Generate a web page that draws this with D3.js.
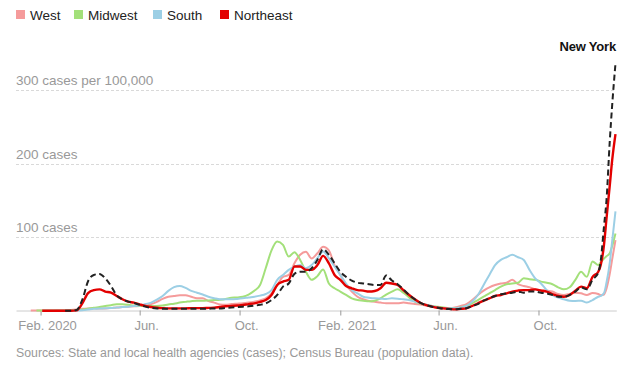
<!DOCTYPE html>
<html>
<head>
<meta charset="utf-8">
<script src="https://cdn.jsdelivr.net/npm/d3@7"></script>
<style>
  html, body { margin: 0; padding: 0; background: #fff; }
  svg { display: block; font-family: "Liberation Sans", Arial, Helvetica, sans-serif; }
</style>
</head>
<body>
<svg id="chart" width="643" height="366"></svg>
<script>
// ---- DATA ----
const weekStart = "2020-01-20";          // first weekly observation
const weekCount = 100;                   // weekly points through 2021-12-13
const tailDates = ["2021-12-16","2021-12-20","2021-12-23","2021-12-27","2021-12-30","2022-01-03"];

const seriesNames = ["West", "Midwest", "South", "Northeast", "New York"];

const west = [0.3,0.3,0.3,0.3,0.4,0.5,0.6,0.8,1.5,2.5,
  3,3.2,3,3,3.5,4.5,5,5.5,6,6.4,
  7,9,12,16,19,20,21,21,19,17,
  17,13,11,8.5,8,9,9.5,10,11,12.3,
  14,16.8,23.6,35,46,48.6,64.5,76,80,71,
  78,87,82,62,48.6,35,26,19,15.5,13.2,
  12.3,11,10,10,10,11,10,9,8.5,7,
  5.5,4,3.2,3.5,4.5,6.5,9,14.5,21.4,27.3,
  31.8,35,37,38,42,36,33.6,31.8,29,28,
  27.3,26,22.7,21.4,22.7,24.5,23.6,21.4,24,22.7,
  21,22,30,50,70,96];

const midwest = [null,0.3,0.3,0.3,0.3,0.3,0.4,0.5,1,1.5,
  2.5,4,5,6.4,7.5,8.6,8.6,8,7,6.4,
  6.4,6.4,6.4,7,8.5,9.5,11,12,13,13.6,
  13.6,14,14.5,15,16,17.7,18,19,22,27,
  35,58,82,94,89.5,73.6,79.5,69,53,42,
  47,56,37,30.5,26,21.4,16.8,14.5,13.6,12.7,
  13.6,16.8,22,26,29,24.5,18,12.3,9.5,8,
  6.4,5.5,4.5,3.5,3.2,4.5,6.4,10,14.5,19,
  23.6,28,32.7,36,37,38,44,42.7,42,39.5,
  38,36,31.8,29,31.8,42,53,46,67,62,
  66,71,74,78,88,105];

const south = [null,null,0,0,0,0,0,0,0.3,0.5,
  1.5,2.5,3,3.2,3.8,4.5,5,5.5,6.4,7,
  9,11,15,20,27,32,33.6,31,27,24.5,
  22,19,17,15.5,15.5,15.5,16,16.8,18,19,
  20.5,22.7,28,42,48.6,55.5,60,62,57.7,62,
  71.4,80.5,71.4,60,48.6,37,28,23.6,19,17.7,
  16.8,16.4,16,16.8,16.4,15.5,14.5,12.3,10,8,
  6.4,4.5,3.2,3.2,3.2,4.5,6.4,12.3,21.4,35,
  48.6,62,69,72.7,76,72.7,69,55.5,44,37,
  28,21.4,17.7,15.5,13.6,13.2,13.6,11,14.5,19,
  20,24,38,65,95,135];

const northeast = [null,null,0,0,0,0,0,0,0.5,10,
  24,28,29,26,24.5,20,15.5,12.3,11,8.6,
  6.4,5,4,3.5,3.2,3.2,3.2,3.2,3.5,3.5,
  3.5,3.8,4,5,6,6.4,7,7.7,9,10,
  12,14.5,21.4,35,39.5,42,60,60,55.5,55.5,
  62,74.5,64.5,48.6,42,33.6,30.5,28,27.3,26,
  26.8,30.5,38,37,35,28,21.4,15.5,10.5,7.5,
  5.5,4,3.2,2.5,1.8,2.5,3.2,6.4,10,13.6,
  16.8,20,21.4,23.6,26,27.3,28,28,29,27.3,
  26,22.7,20,19,21.4,27.3,32.7,30.5,46,53,
  62,90,125,170,205,240];

const newYork = [null,null,null,null,null,null,0,0,1,15,
  40,48.6,50,44,33.6,21,15.5,12.3,10.5,8,
  5.5,4,3,2.7,2.5,2.5,2.5,2.5,2.5,2.5,
  2.7,2.7,3,3,3.8,4.5,5,5.5,6,6.8,
  8,10,14.5,21.4,32.7,37,50,53,53,57.7,
  69,83.6,76,64.5,53,46,41,38,37,36,
  35,35,48,41,36,29,21.4,15.5,10.5,7.5,
  5.5,4,2.7,2.2,1.8,2.5,3.2,6.4,9,13.6,
  16.8,20,22.3,23.6,24.5,26,24.5,26,26,24.5,
  23.6,21.4,19,19,21.4,26,31.8,29,42,52,
  68,115,150,230,280,336];

const yTicks = [100, 200, 300];
const yTickLabels = ["100 cases", "200 cases", "300 cases per 100,000"];
const xTickDates = ["2020-02-01","2020-06-01","2020-10-01","2021-02-01","2021-06-01","2021-10-01"];
const xTickLabels = ["Feb. 2020","Jun.","Oct.","Feb. 2021","Jun.","Oct."];
const sourceText = "Sources: State and local health agencies (cases); Census Bureau (population data).";
const highlightLabel = "New York";

// ---- BUILD ----
const parse = d3.utcParse("%Y-%m-%d");
const start = parse(weekStart);
const dates = d3.range(weekCount).map(i => d3.utcDay.offset(start, 7 * i)).concat(tailDates.map(parse));

const colors = {
  "West": "#f59b9b",
  "Midwest": "#a3e07a",
  "South": "#9ccfe5",
  "Northeast": "#e30000",
  "New York": "#222222"
};
const valuesByName = { "West": west, "Midwest": midwest, "South": south, "Northeast": northeast, "New York": newYork };

const svg = d3.select("#chart");

const x = d3.scaleUtc()
  .domain([parse("2020-01-02"), parse("2022-01-04")])
  .range([16, 616.3]);
const y = d3.scaleLinear().domain([0, 300]).range([310.7, 90]);

// gridlines + y labels
const grid = svg.append("g");
grid.selectAll("line").data(yTicks).join("line")
  .attr("x1", 16).attr("x2", 616)
  .attr("y1", d => Math.round(y(d)) + 0.5).attr("y2", d => Math.round(y(d)) + 0.5)
  .attr("stroke", "#d9d9d9").attr("stroke-width", 1).attr("stroke-dasharray", "3,2");
grid.selectAll("text").data(yTicks).join("text")
  .attr("x", 16).attr("y", d => y(d) - 5)
  .attr("fill", "#999").attr("font-size", "13.5px")
  .text((d, i) => yTickLabels[i]);

// x axis
const xAxis = d3.axisBottom(x)
  .tickValues(xTickDates.map(parse))
  .tickFormat((d, i) => xTickLabels[i])
  .tickSize(5).tickSizeOuter(0);
const gx = svg.append("g").attr("transform", "translate(0,310.5)").call(xAxis);
gx.select(".domain").attr("stroke", "#ccc");
gx.selectAll(".tick line").attr("stroke", "#999");
gx.selectAll(".tick text")
  .attr("fill", "#999").attr("font-size", "13px")
  .attr("font-family", "Liberation Sans, Arial, sans-serif")
  .attr("y", 10).attr("dx", 6.5);

// lines
const line = d3.line()
  .defined(d => d.v !== null)
  .x(d => x(d.date))
  .y(d => y(d.v))
  .curve(d3.curveMonotoneX);

const lineG = svg.append("g");
seriesNames.forEach(name => {
  const pts = valuesByName[name].map((v, i) => ({ date: dates[i], v }));
  const p = lineG.append("path")
    .datum(pts)
    .attr("fill", "none")
    .attr("stroke", colors[name])
    .attr("stroke-linejoin", "round")
    .attr("d", line);
  if (name === "New York") {
    p.attr("stroke-width", 2).attr("stroke-dasharray", "6,3.5");
  } else if (name === "Northeast") {
    p.attr("stroke-width", 2.4);
  } else {
    p.attr("stroke-width", 2);
  }
});

// New York label
svg.append("text")
  .attr("x", 616).attr("y", 51)
  .attr("text-anchor", "end")
  .attr("font-weight", "bold").attr("font-size", "13px")
  .attr("fill", "#121212")
  .attr("letter-spacing", "-0.2px")
  .text(highlightLabel);

// legend
const legendNames = ["West", "Midwest", "South", "Northeast"];
const legendX = [16, 74, 153, 220];
const lg = svg.append("g");
legendNames.forEach((name, i) => {
  lg.append("rect").attr("x", legendX[i]).attr("y", 10).attr("width", 9).attr("height", 9)
    .attr("fill", colors[name]);
  lg.append("text").attr("x", legendX[i] + 14).attr("y", 19.5)
    .attr("font-size", "13.5px").attr("fill", "#222").text(name);
});

// source
svg.append("text")
  .attr("x", 16).attr("y", 357)
  .attr("font-size", "12.3px").attr("fill", "#999")
  .text(sourceText);
</script>
</body>
</html>
